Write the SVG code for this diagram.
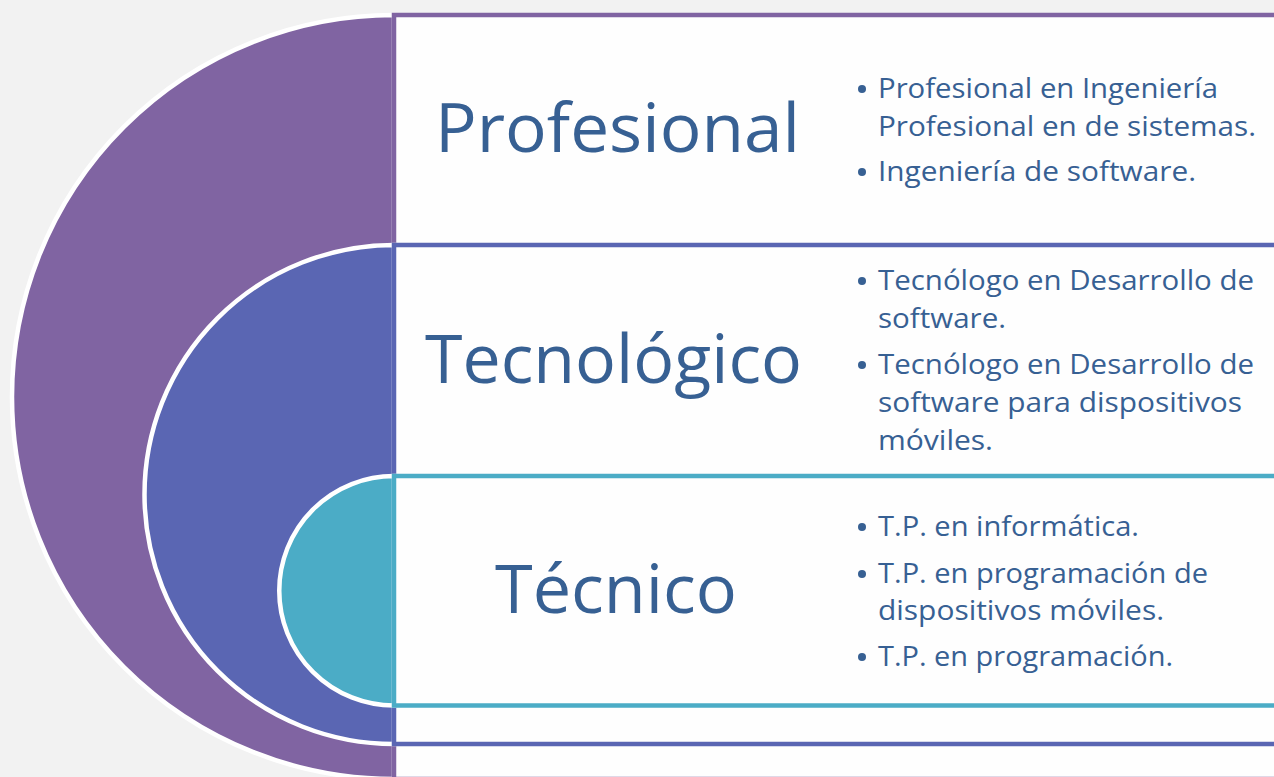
<svg xmlns="http://www.w3.org/2000/svg" width="1274" height="777" viewBox="0 0 1274 777">
  <style>
    .arc { stroke: #ffffff; stroke-width: 4.5; }
    .box { fill: #fefefe; stroke-width: 4.5; }
    .title { font-family: "Open Sans", "Noto Sans", sans-serif; font-size: 68px; fill: #376093; text-anchor: middle; }
    .item { font-family: "Open Sans", "Noto Sans", sans-serif; font-size: 27px; fill: #376093; }
    .dot { fill: #376093; }
  </style>
  <rect x="0" y="0" width="1274" height="777" fill="#f2f2f2"/>

  <g id="profesional">
    <path class="arc" d="M 394 15 A 382 382 0 0 0 394 779 Z" fill="#8064a2"/>
    <rect class="box" x="394" y="15" width="900" height="764" stroke="#8064a2"/>
    <text class="title" x="617.5" y="152" textLength="365" lengthAdjust="spacingAndGlyphs">Profesional</text>
    <circle class="dot" cx="862" cy="89" r="4"/>
    <text class="item" x="878" y="98" textLength="340" lengthAdjust="spacingAndGlyphs">Profesional en Ingeniería</text>
    <text class="item" x="878" y="136" textLength="378" lengthAdjust="spacingAndGlyphs">Profesional en de sistemas.</text>
    <circle class="dot" cx="862" cy="172" r="4"/>
    <text class="item" x="878" y="181" textLength="318" lengthAdjust="spacingAndGlyphs">Ingeniería de software.</text>
  </g>

  <g id="tecnologico">
    <path class="arc" d="M 394 245 A 249.5 249.5 0 0 0 394 744 Z" fill="#5a66b3"/>
    <rect class="box" x="394" y="245" width="900" height="499" stroke="#5a66b3"/>
    <text class="title" x="613.5" y="383" textLength="377" lengthAdjust="spacingAndGlyphs">Tecnológico</text>
    <circle class="dot" cx="862" cy="281" r="4"/>
    <text class="item" x="878" y="290" textLength="376" lengthAdjust="spacingAndGlyphs">Tecnólogo en Desarrollo de</text>
    <text class="item" x="878" y="328" textLength="128" lengthAdjust="spacingAndGlyphs">software.</text>
    <circle class="dot" cx="862" cy="365" r="4"/>
    <text class="item" x="878" y="374" textLength="376" lengthAdjust="spacingAndGlyphs">Tecnólogo en Desarrollo de</text>
    <text class="item" x="878" y="412" textLength="364" lengthAdjust="spacingAndGlyphs">software para dispositivos</text>
    <text class="item" x="878" y="450" textLength="115" lengthAdjust="spacingAndGlyphs">móviles.</text>
  </g>

  <g id="tecnico">
    <path class="arc" d="M 394 476 A 114.75 114.75 0 0 0 394 705.5 Z" fill="#4bacc6"/>
    <rect class="box" x="394" y="476" width="900" height="229.5" stroke="#4bacc6"/>
    <text class="title" x="616" y="613" textLength="242" lengthAdjust="spacingAndGlyphs">Técnico</text>
    <circle class="dot" cx="862" cy="527" r="4"/>
    <text class="item" x="878" y="536" textLength="261" lengthAdjust="spacingAndGlyphs">T.P. en informática.</text>
    <circle class="dot" cx="862" cy="574" r="4"/>
    <text class="item" x="878" y="583" textLength="330" lengthAdjust="spacingAndGlyphs">T.P. en programación de</text>
    <text class="item" x="878" y="620" textLength="286" lengthAdjust="spacingAndGlyphs">dispositivos móviles.</text>
    <circle class="dot" cx="862" cy="657" r="4"/>
    <text class="item" x="878" y="666" textLength="295" lengthAdjust="spacingAndGlyphs">T.P. en programación.</text>
  </g>

  <g id="connectors"></g>
</svg>
